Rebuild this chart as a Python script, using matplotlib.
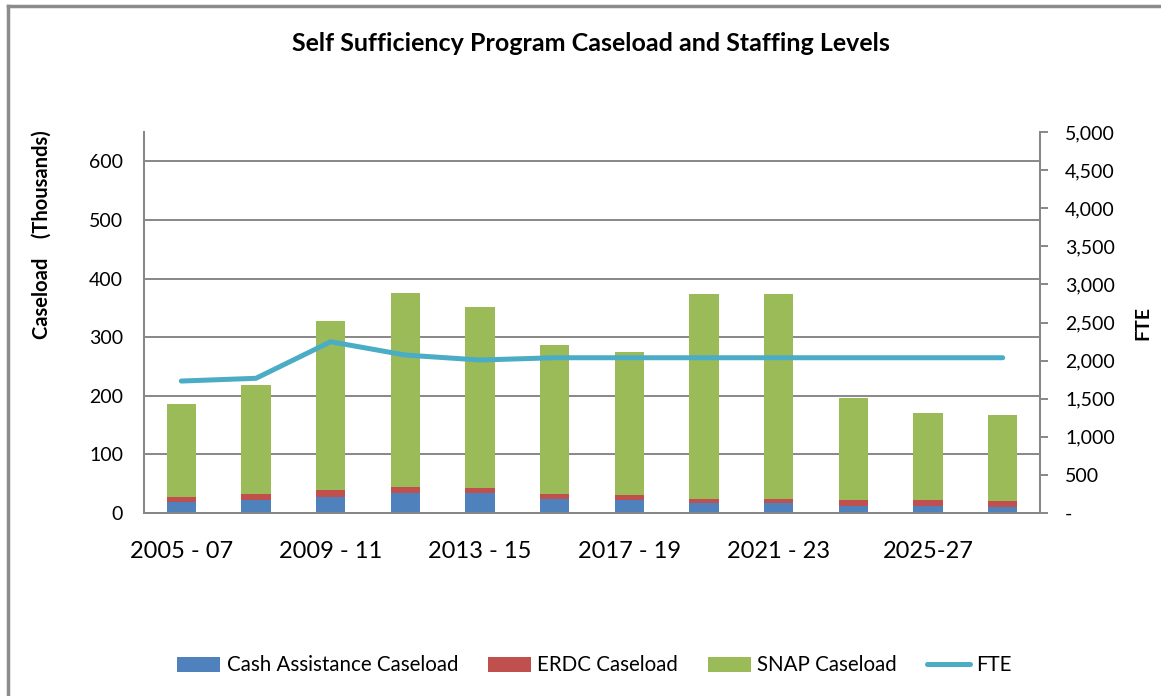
import matplotlib
matplotlib.use("Agg")
import matplotlib.pyplot as plt
from matplotlib.ticker import FuncFormatter, MultipleLocator
from matplotlib.lines import Line2D
import numpy as np

plt.rcParams['font.family'] = ['Lato', 'DejaVu Sans']

periods = ['2005 - 07', '2007 - 09', '2009 - 11', '2011 - 13', '2013 - 15', '2015 - 17',
           '2017 - 19', '2019 - 21', '2021 - 23', '2023 - 25', '2025-27', '2027-29']
cash = [19, 22, 28, 35, 35, 24, 22, 17, 17, 12.5, 12.5, 11]
erdc = [9, 10, 11, 10, 8, 8, 8, 7, 7, 9.5, 9.5, 9.5]
snap = [158, 186, 289, 331, 308, 254, 244, 350, 350, 175, 149, 146.5]
fte = [1732, 1768, 2248, 2073, 2008, 2038, 2038, 2038, 2038, 2038, 2038, 2038]

blue = '#4F81BD'
red = '#C0504D'
green = '#9BBB59'
aqua = '#4BACC6'
grey = '#878787'

fig = plt.figure(figsize=(11.61, 6.96), dpi=100)
ax = fig.add_axes([0.124, 0.2629, 0.7718, 0.5474])
ax2 = ax.twinx()

x = np.arange(len(periods))
w = 0.39
cash = np.array(cash)
erdc = np.array(erdc)
snap = np.array(snap)
b1 = ax.bar(x, cash, w, color=blue, zorder=2, label='Cash Assistance Caseload')
b2 = ax.bar(x, erdc, w, bottom=cash, color=red, zorder=2, label='ERDC Caseload')
b3 = ax.bar(x, snap, w, bottom=cash + erdc, color=green, zorder=2, label='SNAP Caseload')
ln, = ax2.plot(x, fte, color=aqua, lw=3.6, solid_capstyle='round', label='FTE')

ax.set_xlim(-0.5, 11.5)
ax.set_ylim(0, 650)
ax.yaxis.set_major_locator(MultipleLocator(100))
ax.grid(axis='y', color=grey, lw=1.4, zorder=0)
ax.set_axisbelow(True)
ax.set_xticks(x[::2])
ax.set_xticklabels(periods[::2], fontsize=17)
ax.tick_params(axis='x', length=0, pad=20)
ax.tick_params(axis='y', length=0, pad=15, labelsize=14)

ax2.set_ylim(0, 5000)
ax2.yaxis.set_major_locator(MultipleLocator(500))
ax2.yaxis.set_major_formatter(FuncFormatter(lambda v, p: '-' if v == 0 else '{:,.0f}'.format(v)))
ax2.tick_params(axis='y', length=6, width=1.4, color=grey, pad=12, labelsize=14)

for a in (ax, ax2):
    a.spines['top'].set_visible(False)
    for s in ('left', 'right', 'bottom'):
        a.spines[s].set_color(grey)
        a.spines[s].set_linewidth(1.4)

ax.set_ylabel('Caseload    (Thousands)', fontsize=14.5, fontweight='bold')
ax.yaxis.set_label_coords(-0.103, 0.73)
ax2.set_ylabel('FTE', fontsize=14, fontweight='bold', labelpad=14)

fig.text(0.509, 0.938, 'Self Sufficiency Program Caseload and Staffing Levels',
         ha='center', va='center', fontsize=18, fontweight='bold')

handles = [b1, b2, b3, ln]
fig.legend(handles, [h.get_label() for h in handles], loc='center',
           bbox_to_anchor=(0.512, 0.044), ncol=4, frameon=False, fontsize=14.8,
           handlelength=2.1, handleheight=0.75, columnspacing=1.45, handletextpad=0.3)

# outer chart border (left and top edges visible)
fig.add_artist(Line2D([0.0068, 0.0068], [0, 0.992], transform=fig.transFigure, color='#8c8c8c', lw=2.5))
fig.add_artist(Line2D([0.0068, 1], [0.992, 0.992], transform=fig.transFigure, color='#8c8c8c', lw=2.5))

fig.savefig('out.png', dpi=100)
